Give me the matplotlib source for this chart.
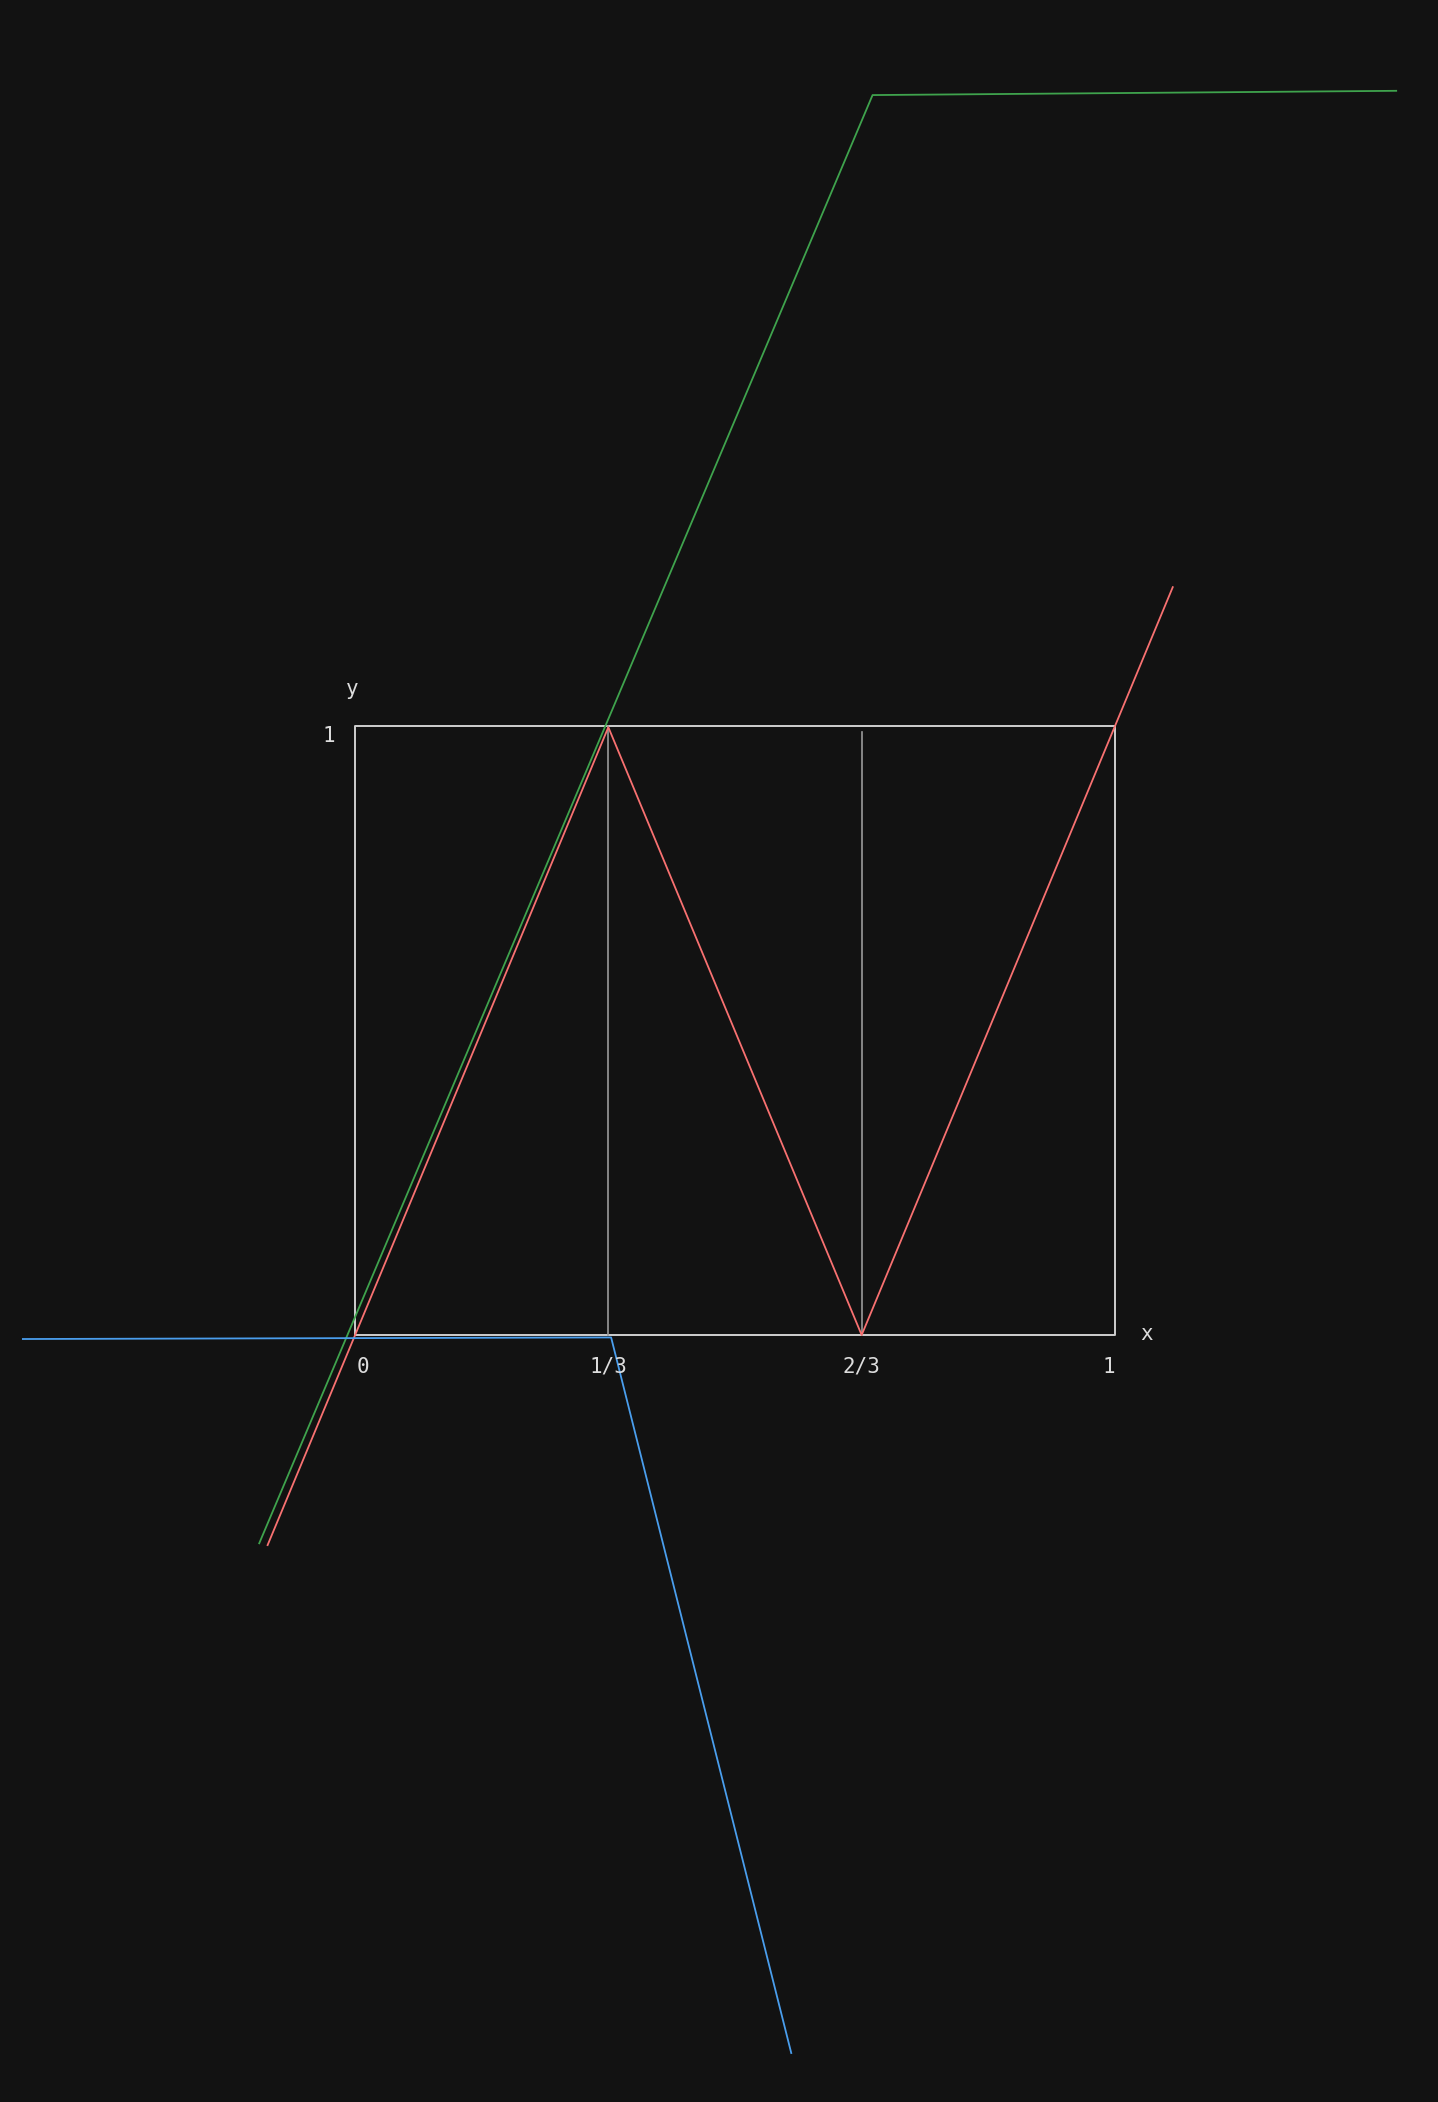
import matplotlib
matplotlib.use("Agg")
import matplotlib.pyplot as plt

# unit box and guide lines
box_x = [0, 1, 1, 0, 0]
box_y = [0, 0, 1, 1, 0]
guide_x = [1/3, 2/3]
guide_top = [1.0, 0.99]

# curves
red_x = [-0.115, 1/3, 2/3, 1.076]
red_y = [-0.345, 0.998, 0.0, 1.228]
green_x = [-0.126, 0.681, 1.370]
green_y = [-0.342, 2.036, 2.043]
blue_x = [-0.437, 0.337, 0.574]
blue_y = [-0.0066, -0.004, -1.179]

xtick_pos = [0, 1/3, 2/3, 1]
xtick_labels = ["0", "1/3", "2/3", "1"]

bg = "#121212"
fig = plt.figure(figsize=(14.38, 21.02), dpi=100, facecolor=bg)
ax = fig.add_axes([0, 0, 1, 1])
ax.set_facecolor(bg)
ax.set_xlim(-355 / 760, (1438 - 355) / 760)
ax.set_ylim((1335 - 2102) / 609, 1335 / 609)
ax.axis("off")

ax.plot(box_x, box_y, color="#cfcfcf", lw=1.4)
for gx, gt in zip(guide_x, guide_top):
    ax.plot([gx, gx], [0, gt], color="#9a9a9a", lw=1.2)

ax.plot(red_x, red_y, color="#f87171", lw=1.3)
ax.plot(green_x, green_y, color="#3fa34d", lw=1.3)
ax.plot(blue_x, blue_y, color="#4a9eed", lw=1.3)

font = dict(family="DejaVu Sans Mono", fontsize=15, color="#dddddd")
for p, lab in zip(xtick_pos, xtick_labels):
    ax.text(p + (0.01 if p == 0 else 0) - (0.008 if p == 1 else 0), -0.052, lab,
            ha="center", va="center", **font)
ax.text(-0.035, 0.984, "1", ha="center", va="center", **font)
ax.text(-0.003, 1.06, "y", ha="center", va="center", **font)
ax.text(1.042, 0.002, "x", ha="center", va="center", **font)

fig.savefig("out.png", dpi=100, facecolor=bg)
